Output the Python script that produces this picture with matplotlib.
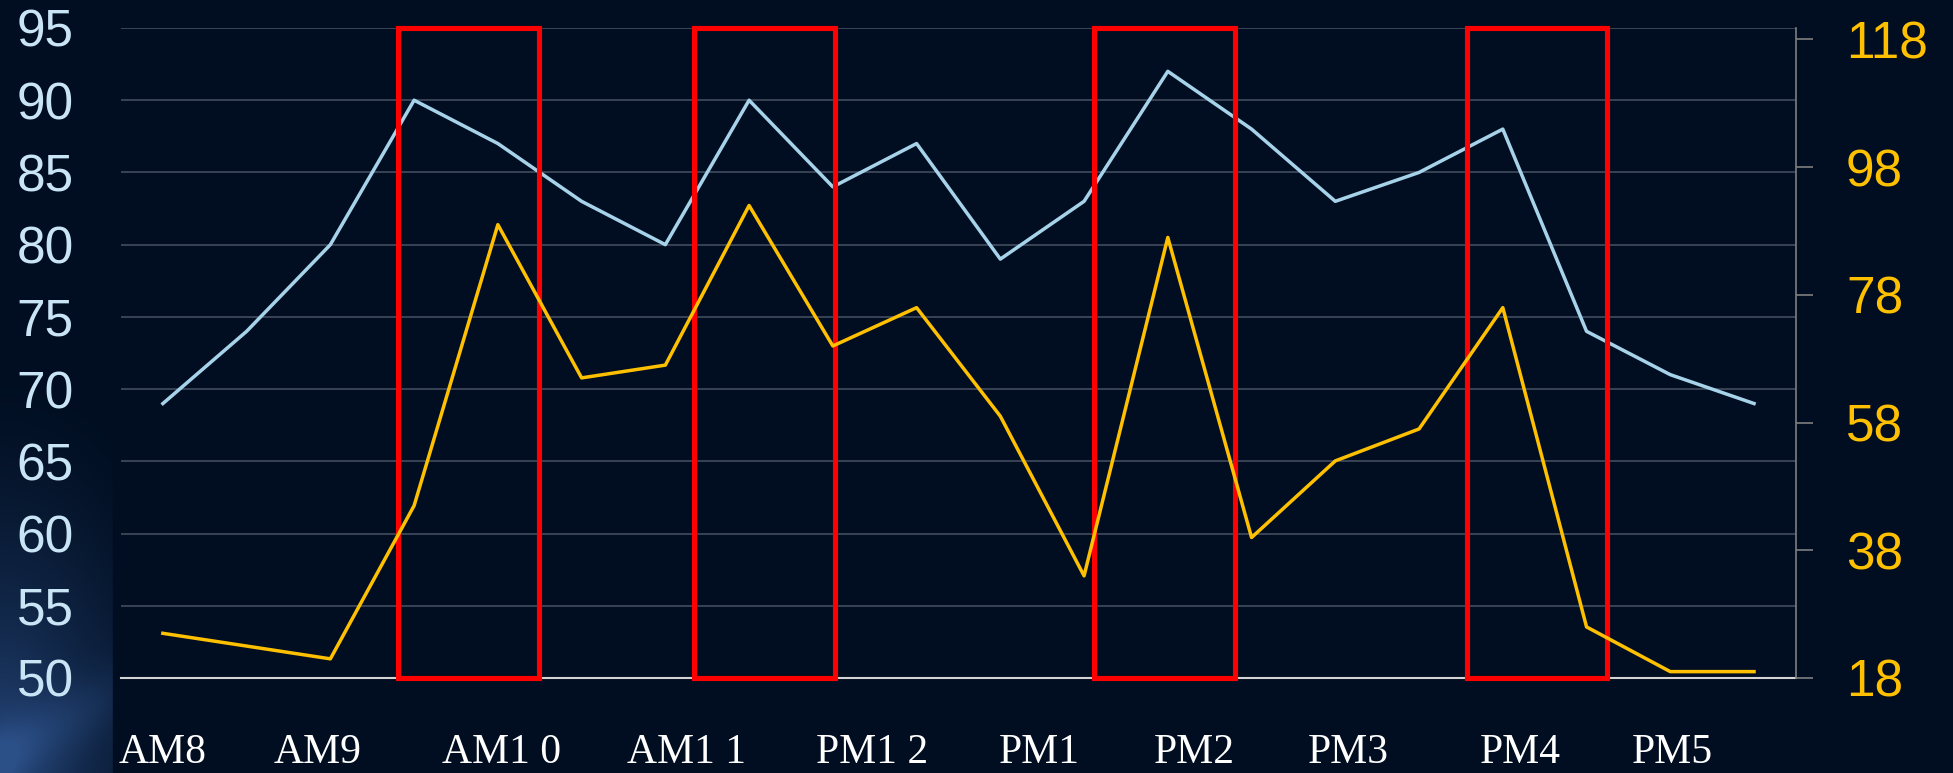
import numpy as np
import matplotlib
matplotlib.use("Agg")
import matplotlib.pyplot as plt
from matplotlib.patches import Rectangle
from matplotlib.transforms import blended_transform_factory

# hourly readings, two per hour from 8 AM to 5 PM
left_values = [69, 74, 80, 90, 87, 83, 80, 90, 84, 87,
               79, 83, 92, 88, 83, 85, 88, 74, 71, 69]
right_values = [25, 23, 21, 45, 89, 65, 67, 92, 70, 76,
                59, 34, 87, 40, 52, 57, 76, 26, 19, 19]

hour_labels = ["AM8", "AM9", "AM1 0", "AM1 1", "PM1 2",
               "PM1", "PM2", "PM3", "PM4", "PM5"]
hour_label_pos = [0.0, 1.85, 4.04, 6.25, 8.47, 10.47, 12.32, 14.16, 16.21, 18.02]

left_ticks = [50, 55, 60, 65, 70, 75, 80, 85, 90, 95]
right_ticks = [18, 38, 58, 78, 98, 118]

# highlighted periods (start on x, width)
box_starts = [2.81, 6.34, 11.12, 15.57]
box_width = 1.68

navy = "#010e21"
sky = "#a7d3ea"
gold = "#ffc000"

fig = plt.figure(figsize=(19.53, 7.73), dpi=100, facecolor=navy)

# soft blue glow in the lower left corner of the slide
bg = fig.add_axes([0, 0, 1, 1], zorder=-10)
W, H = 1953, 773
xx, yy = np.meshgrid(np.arange(W), np.arange(H)[::-1])
glow = np.clip(1 - np.sqrt((xx / 230.0) ** 2 + (yy / 420.0) ** 2), 0, 1) ** 1.6
streak = np.exp(-((yy - 0.55 * xx - 15) / 35.0) ** 2) * np.clip(1 - xx / 260.0, 0, 1)
k = np.clip(glow * 0.85 + streak * 0.3, 0, 1)[..., None]
base = np.array(matplotlib.colors.to_rgb(navy))
light = np.array([0.17, 0.31, 0.53])
img = base * (1 - k) + light * k
bg.imshow(img, extent=[0, 1, 0, 1], aspect="auto")
bg.add_patch(Rectangle((113 / W, 0), 1, 1, color=navy, zorder=5))
bg.set_axis_off()

ax = fig.add_axes([0.06196, 0.1229, 0.8576, 0.8409])
ax.set_facecolor("none")
ax.set_xlim(-0.5, 19.5)
ax.set_ylim(50, 95)
ax.set_yticks(left_ticks)
ax.set_xticks([])
for y in left_ticks[1:]:
    ax.axhline(y, color="#384355", lw=1.4, zorder=1)

ax.tick_params(axis="y", length=0, pad=34, labelsize=37, labelcolor="#c8e4f5")
for lab in ax.get_yticklabels():
    lab.set_fontfamily("Liberation Sans")
for side in ["left", "top", "right"]:
    ax.spines[side].set_visible(False)
ax.spines["bottom"].set_color("#d4d4d4")
ax.spines["bottom"].set_linewidth(1.5)

ax.plot(range(len(left_values)), left_values, color=sky, lw=2.5, zorder=3)

for x0 in box_starts:
    ax.add_patch(Rectangle((x0, 50), box_width, 45, fill=False, edgecolor="#ff0000",
                           lw=3.7, joinstyle="miter", zorder=4, clip_on=False))

ax2 = ax.twinx()
ax2.set_ylim(18, 119.8)
ax2.set_yticks(right_ticks)
ax2.plot(range(len(right_values)), right_values, color=gold, lw=2.5, zorder=3)
ax2.tick_params(axis="y", length=12, width=1.2, color="#7f7f7f", pad=24,
                labelsize=37, labelcolor=gold)
for lab in ax2.get_yticklabels():
    lab.set_fontfamily("Liberation Sans")
for side in ["left", "top", "bottom"]:
    ax2.spines[side].set_visible(False)
ax2.spines["right"].set_color("#7f7f7f")
ax2.spines["right"].set_linewidth(1.2)

# hour names along the bottom
trans = blended_transform_factory(ax.transData, fig.transFigure)
for x, name in zip(hour_label_pos, hour_labels):
    ax.text(x, 10 / 773, name, transform=trans, ha="center", va="baseline",
            fontsize=30, color="white", family="Liberation Serif")

fig.savefig("out.png", dpi=100, facecolor=navy)
